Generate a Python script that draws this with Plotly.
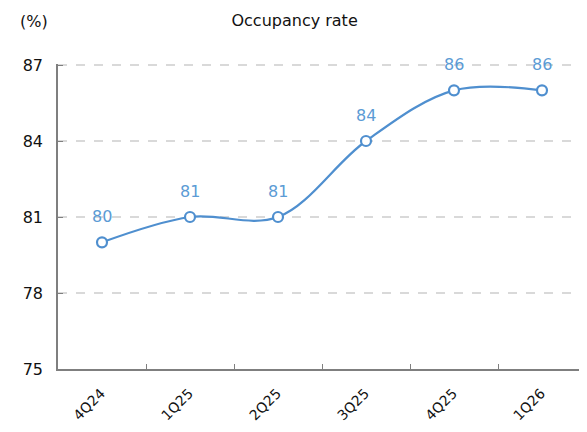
import plotly.graph_objects as go

# Quarterly occupancy rate (%)
quarters = ["4Q24", "1Q25", "2Q25", "3Q25", "4Q25", "1Q26"]
occupancy = [80, 81, 81, 84, 86, 86]
y_ticks = [75, 78, 81, 84, 87]

line_blue = "#4F8FCF"
label_blue = "#5B9BD5"
font_family = "DejaVu Sans"

fig = go.Figure()
fig.add_trace(go.Scatter(
    x=quarters,
    y=occupancy,
    mode="lines+markers",
    line=dict(color=line_blue, width=2.2, shape="spline", smoothing=1.0),
    marker=dict(symbol="circle", size=10, color="white",
                line=dict(color=line_blue, width=2.2)),
    cliponaxis=False,
    showlegend=False,
))

# value labels above each point
labels = [dict(x=q, y=v, text=str(v), showarrow=False, yshift=26,
               font=dict(color=label_blue, size=16, family=font_family))
          for q, v in zip(quarters, occupancy)]

# the page body adds an 8px offset, so the figure is sized smaller
fig.update_layout(
    width=579, height=424,
    margin=dict(l=50, r=1, t=56, b=63),
    paper_bgcolor="white", plot_bgcolor="white",
    font=dict(family=font_family, size=16, color="#111111"),
    title=dict(text="Occupancy rate", x=0.495, xanchor="center", xref="container",
               y=1 - 12 / 424, yanchor="middle", yref="container",
               font=dict(size=16, color="#111111")),
    annotations=labels + [dict(text="(%)", xref="paper", yref="paper", x=-0.075, y=1.138,
                               xanchor="left", yanchor="middle", showarrow=False,
                               font=dict(size=16, color="#111111"))],
)

fig.update_xaxes(
    type="category",
    range=[-0.5, len(quarters) - 0.5],
    tickson="boundaries",
    ticks="inside", ticklen=5, tickcolor="#7f7f7f",
    showline=True, linecolor="#7f7f7f", linewidth=1.5,
    showgrid=False,
    tickangle=-45,
    tickfont=dict(size=14),
    ticklabelshift=-1,
    ticklabelstandoff=9,
    automargin=False,
)
fig.update_yaxes(
    range=[75, 87.04],
    tickvals=y_ticks,
    ticks="inside", ticklen=5, tickcolor="#7f7f7f",
    showline=True, linecolor="#7f7f7f", linewidth=1.5,
    showgrid=True, gridcolor="#d9d9d9", griddash="dash", gridwidth=1.5,
    zeroline=False,
    tickfont=dict(size=16),
    ticklabelstandoff=10,
    automargin=False,
)

fig.write_html("out.html")
